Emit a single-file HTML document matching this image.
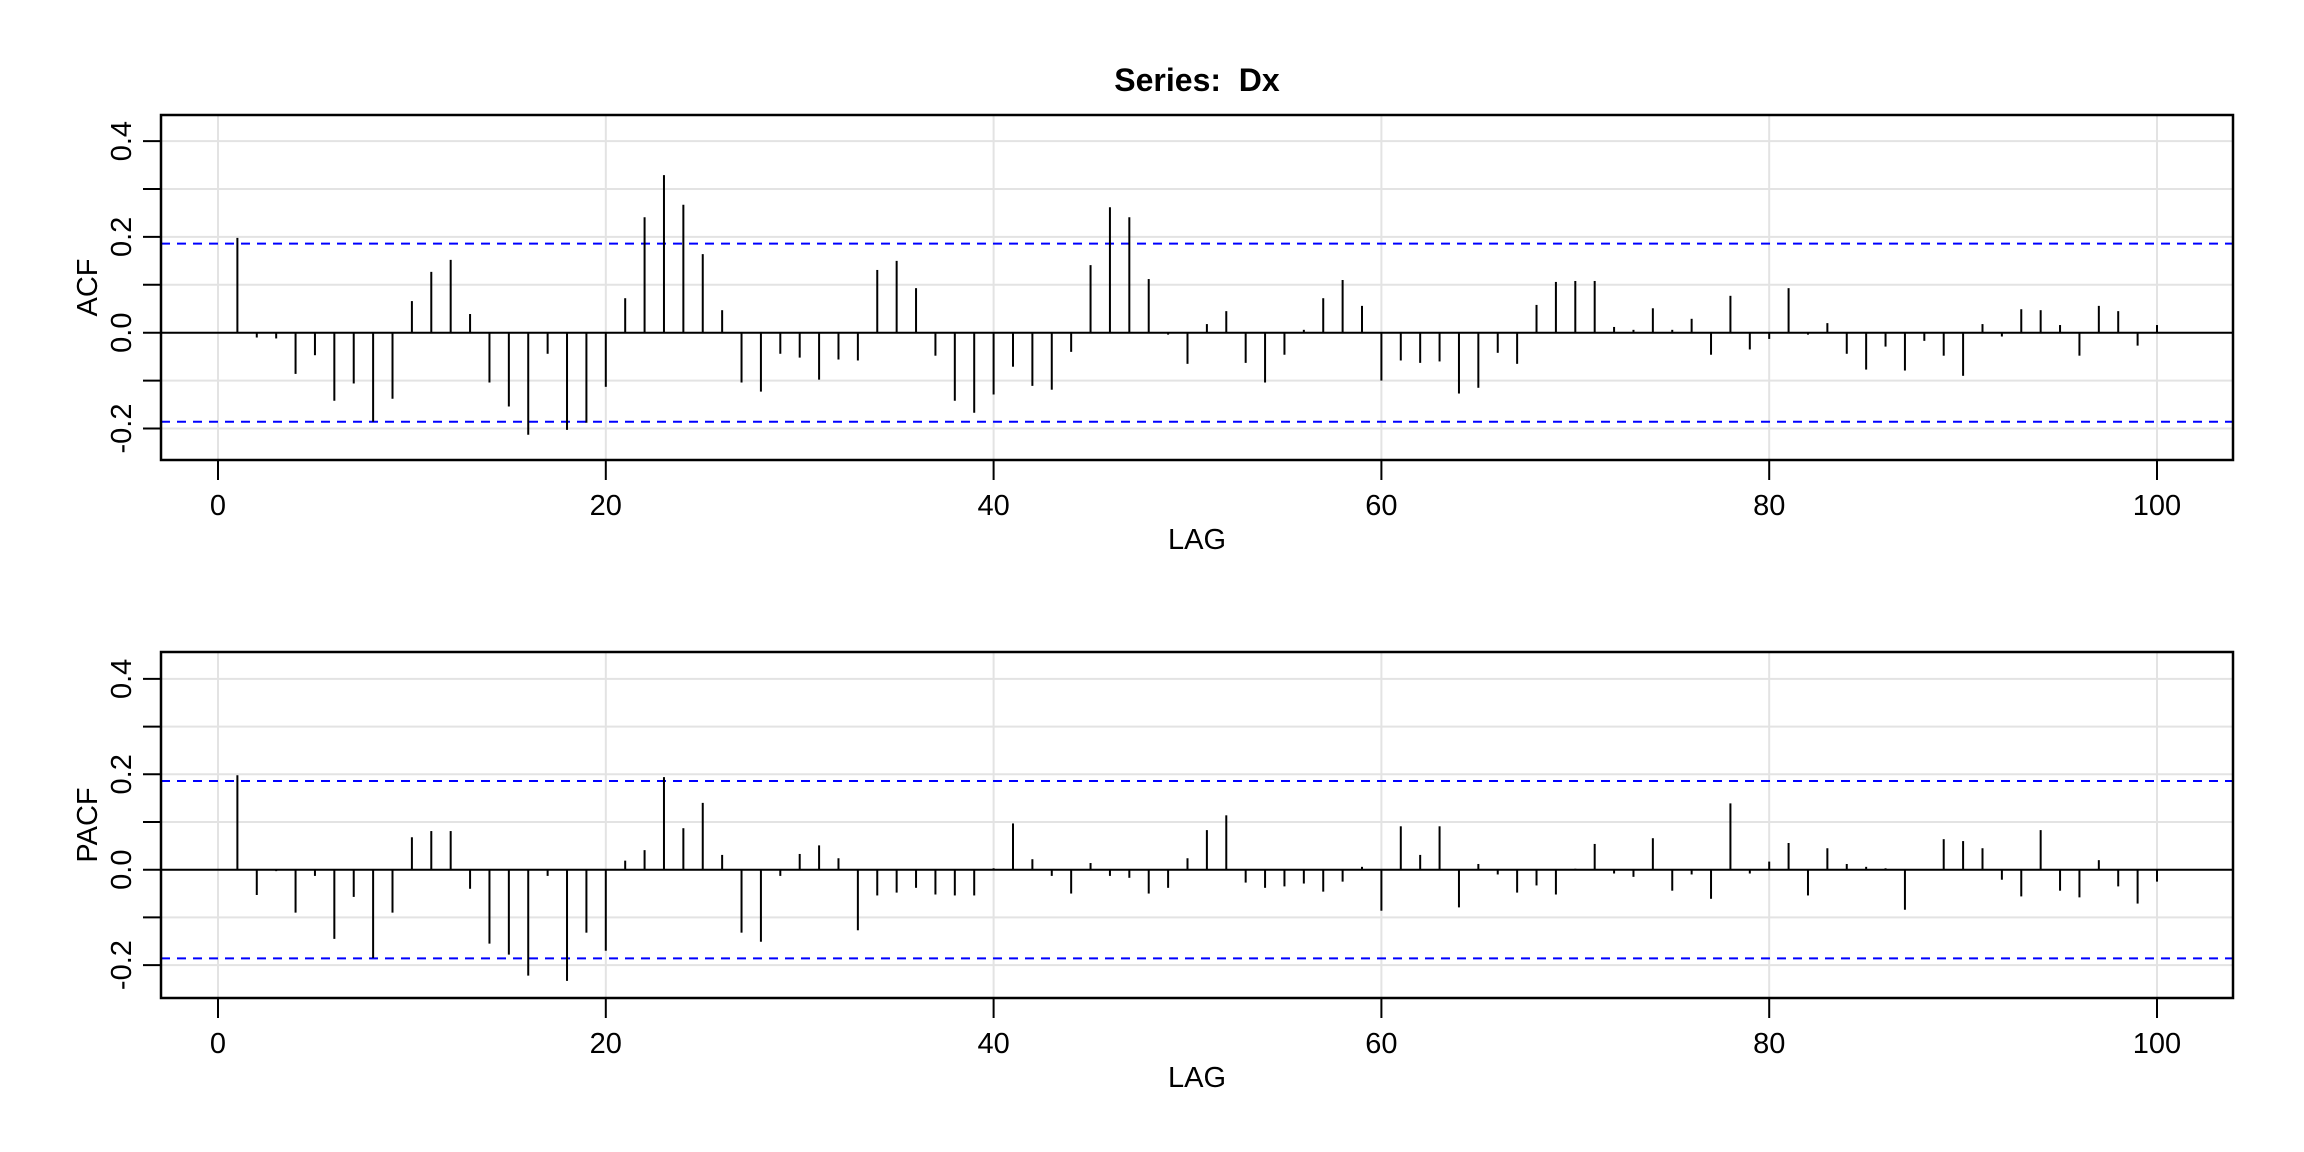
<!DOCTYPE html>
<html><head><meta charset="utf-8"><style>
html,body{margin:0;padding:0;background:#fff;}
svg{display:block;font-family:"Liberation Sans",Arial,sans-serif;}
</style></head><body>
<svg id="chart" width="2304" height="1152" viewBox="0 0 2304 1152" xmlns="http://www.w3.org/2000/svg">
<text x="1197" y="91" text-anchor="middle" font-size="32" font-weight="bold">Series:&#160; Dx</text>
</svg>
<script>
const lags = Array.from({length:100},(_,i)=>i+1);
const acfValues = [0.198,-0.01,-0.012,-0.086,-0.047,-0.142,-0.106,-0.186,-0.138,0.066,
0.127,0.152,0.039,-0.104,-0.154,-0.213,-0.044,-0.203,-0.188,-0.113,
0.072,0.241,0.329,0.267,0.164,0.047,-0.104,-0.123,-0.044,-0.052,
-0.098,-0.056,-0.058,0.131,0.15,0.093,-0.048,-0.142,-0.167,-0.129,
-0.071,-0.111,-0.119,-0.04,0.141,0.262,0.241,0.112,-0.004,-0.065,
0.018,0.045,-0.063,-0.104,-0.046,0.006,0.072,0.11,0.056,-0.1,
-0.058,-0.063,-0.06,-0.127,-0.115,-0.042,-0.065,0.058,0.106,0.108,
0.108,0.012,0.006,0.051,0.006,0.029,-0.046,0.077,-0.035,-0.013,
0.093,-0.004,0.02,-0.044,-0.077,-0.029,-0.079,-0.017,-0.048,-0.09,
0.018,-0.008,0.049,0.047,0.016,-0.048,0.056,0.045,-0.027,0.016];
const pacfValues = [0.198,-0.053,-0.003,-0.09,-0.013,-0.145,-0.057,-0.185,-0.09,0.068,
0.081,0.081,-0.04,-0.155,-0.178,-0.222,-0.013,-0.233,-0.132,-0.17,
0.019,0.041,0.194,0.087,0.14,0.031,-0.132,-0.151,-0.013,0.033,
0.051,0.024,-0.127,-0.054,-0.048,-0.038,-0.052,-0.054,-0.054,0.003,
0.097,0.022,-0.013,-0.05,0.014,-0.013,-0.017,-0.05,-0.038,0.024,
0.083,0.114,-0.027,-0.038,-0.035,-0.029,-0.046,-0.025,0.006,-0.086,
0.091,0.031,0.091,-0.079,0.012,-0.01,-0.048,-0.033,-0.052,0.002,
0.054,-0.008,-0.015,0.066,-0.044,-0.01,-0.061,0.139,-0.008,0.017,
0.056,-0.054,0.045,0.012,0.006,0.003,-0.084,0.0,0.064,0.06,
0.045,-0.021,-0.056,0.083,-0.044,-0.058,0.02,-0.035,-0.071,-0.025];
const confBound = [0.186];
const xTicks = [0,20,40,60,80,100];
const yTicks = [-0.2,-0.1,0,0.1,0.2,0.3,0.4];
const yLabels = ["-0.2","0.0","0.2","0.4"];

const NS="http://www.w3.org/2000/svg";
const svg=document.getElementById('chart');
function mk(tag,attrs,parent){const e=document.createElementNS(NS,tag);for(const k in attrs)e.setAttribute(k,attrs[k]);(parent||svg).appendChild(e);return e;}

function panel(cfg){
  const L=161,R=2233,T=cfg.top,B=cfg.bottom;
  const xS=v=>218+v*19.39;
  const yS=v=>cfg.zero-v*cfg.unit*10;
  const g=mk('g',{});
  
  
  xTicks.forEach(t=>{const l=mk('line',{x1:xS(t),x2:xS(t),y1:T,y2:B,stroke:'#e3e3e3','stroke-width':2},g);
    });
  yTicks.forEach(t=>{const l=mk('line',{x1:L,x2:R,y1:yS(t),y2:yS(t),stroke:'#e3e3e3','stroke-width':2},g);
    });
  confBound.forEach(c=>{[c,-c].forEach(v=>{const l=mk('line',{x1:L,x2:R,y1:yS(v),y2:yS(v),stroke:'#0000ff','stroke-width':2,'stroke-dasharray':'9,7'},g);
    });});
  const z=mk('line',{x1:L,x2:R,y1:yS(0),y2:yS(0),stroke:'#000','stroke-width':2},g);
  
  cfg.values.forEach((v,i)=>{const l=mk('line',{x1:xS(lags[i]),x2:xS(lags[i]),y1:yS(0),y2:yS(v),stroke:'#000','stroke-width':2},g);
    });
  const box=mk('rect',{x:L,y:T,width:R-L,height:B-T,fill:'none',stroke:'#000','stroke-width':2.5},g);
  
  yTicks.forEach(t=>{const l=mk('line',{x1:L-18,x2:L,y1:yS(t),y2:yS(t),stroke:'#000','stroke-width':2},g);
    });
  yLabels.forEach(s=>{const v=parseFloat(s);const tx=mk('text',{x:0,y:0,'font-size':29,'text-anchor':'middle',transform:`translate(131,${yS(v)}) rotate(-90)`},g);
    tx.textContent=s;});
  xTicks.forEach(t=>{const l=mk('line',{x1:xS(t),x2:xS(t),y1:B,y2:B+20,stroke:'#000','stroke-width':2},g);
    
    const tx=mk('text',{x:xS(t),y:B+55,'font-size':29,'text-anchor':'middle'},g);
    tx.textContent=t;});
  const xl=mk('text',{x:1197,y:B+89,'font-size':29,'text-anchor':'middle'},g);
  xl.textContent='LAG';
  const yl=mk('text',{x:0,y:0,'font-size':29,'text-anchor':'middle',transform:`translate(97,${(T+B)/2}) rotate(-90)`},g);
  yl.textContent=cfg.label;
}
panel({name:'acf',top:115,bottom:460,zero:332.7,unit:47.9,values:acfValues,label:'ACF'});
panel({name:'pacf',top:652,bottom:998,zero:869.7,unit:47.7,values:pacfValues,label:'PACF'});
</script>
</body></html>
